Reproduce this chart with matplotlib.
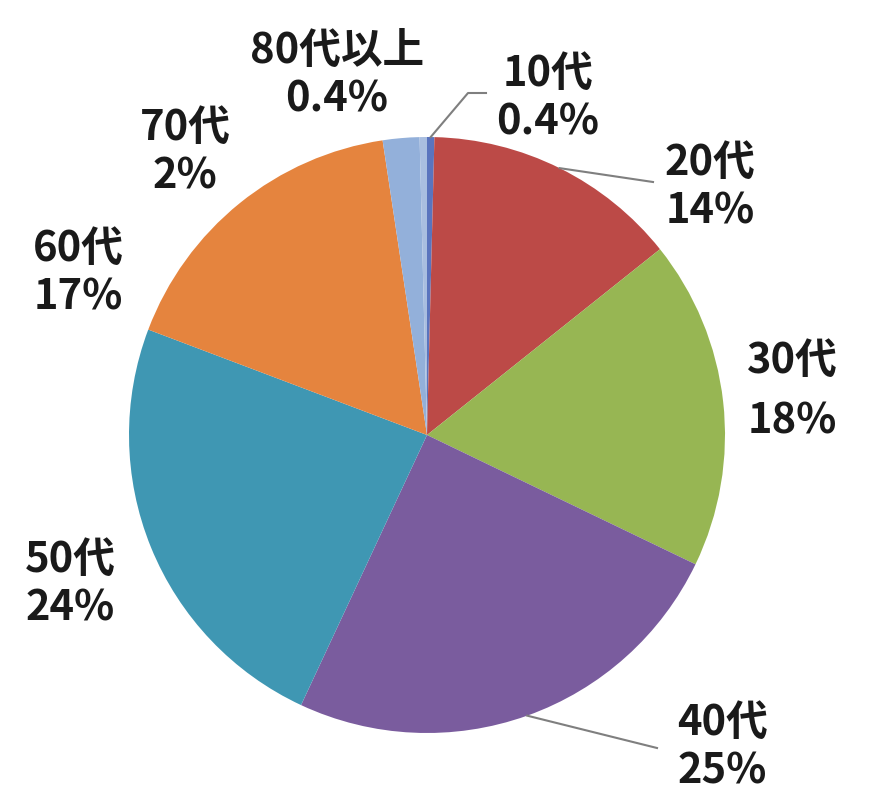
# Age distribution pie chart (年代別構成比)

import matplotlib
matplotlib.use("Agg")
import matplotlib.pyplot as plt
import numpy as np

plt.rcParams["font.family"] = ["Noto Sans CJK JP", "DejaVu Sans"]

# Data
ages = ["10代", "20代", "30代", "40代", "50代", "60代", "70代", "80代以上"]
shares = [0.4, 14, 18, 25, 24, 17, 2, 0.4]
share_labels = ["0.4%", "14%", "18%", "25%", "24%", "17%", "2%", "0.4%"]

colors = ["#5A74BE", "#BC4A47", "#97B653", "#7A5C9E",
          "#3F97B3", "#E5843E", "#93B0DA", "#A9BEE0"]

W, H = 872, 801
fig = plt.figure(figsize=(W / 100, H / 100), dpi=100)
ax = fig.add_axes([0, 0, 1, 1])

cx, cy, r = 427, H - 435, 298

wedges, _ = ax.pie(
    shares,
    colors=colors,
    startangle=90,
    counterclock=False,
    center=(cx, cy),
    radius=r,
    frame=True,
    wedgeprops=dict(linewidth=0),
)
ax.set_xlim(0, W)
ax.set_ylim(0, H)
ax.set_aspect("equal")
ax.axis("off")

# label centres (pixel coords, y from top)
label_pos = {
    "10代": (548, 98),
    "20代": (710, 187),
    "30代": (792, 391),
    "40代": (722, 747),
    "50代": (70, 584),
    "60代": (78, 273),
    "70代": (185, 152),
    "80代以上": (337, 75),
}
linespace = {"30代": 1.55}

for age, pct in zip(ages, share_labels):
    x, y = label_pos[age]
    ax.text(x, H - y, age + "\n" + pct, ha="center", va="center",
            fontsize=30, fontweight="bold", color="#1a1a1a",
            linespacing=linespace.get(age, 1.2))

# leader lines from the wedge rim to the labels
leader_ends = {
    "10代": [(468, 93), (486, 93)],
    "20代": [(653, 182)],
    "40代": [(657, 748)],
}
for wedge, age in zip(wedges, ages):
    if age not in leader_ends:
        continue
    ang = np.deg2rad((wedge.theta1 + wedge.theta2) / 2)
    x0 = cx + r * np.cos(ang)
    y0 = cy + r * np.sin(ang)
    xs = [x0] + [p[0] for p in leader_ends[age]]
    ys = [y0] + [H - p[1] for p in leader_ends[age]]
    ax.plot(xs, ys, color="#7f7f7f", linewidth=1.5)

fig.savefig("out.png", dpi=100, facecolor="white")
